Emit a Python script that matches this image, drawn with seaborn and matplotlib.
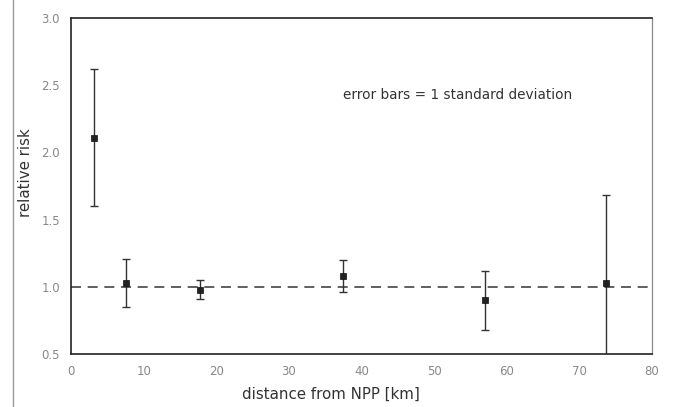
import numpy as np
import pandas as pd
import seaborn as sns
import matplotlib.pyplot as plt
from matplotlib.lines import Line2D

# distance from NPP [km], relative risk, 1 sd
distance = [3.2, 7.6, 17.8, 37.5, 57.0, 73.7]
rel_risk = [2.11, 1.03, 0.98, 1.08, 0.90, 1.03]
std_dev = [0.51, 0.18, 0.07, 0.12, 0.22, 0.65]

x_ticks = [0, 10, 20, 30, 40, 50, 60, 70, 80]
y_ticks = [0.5, 1.0, 1.5, 2.0, 2.5, 3.0]

df = pd.DataFrame({'distance': distance, 'risk': rel_risk, 'sd': std_dev})

sns.set_style('white')
plt.rcParams['font.family'] = ['DejaVu Sans']

fig = plt.figure(figsize=(6.79, 4.07), dpi=100)
ax = fig.add_axes([0.1046, 0.130, 0.8557, 0.826])

# reference line at relative risk 1
ax.axhline(1.0, color='#444444', linestyle=(0, (6, 4)), linewidth=1.2, zorder=1)

ax.errorbar(df['distance'], df['risk'], yerr=df['sd'], fmt='none',
            ecolor='#333333', elinewidth=1.0, capsize=3, capthick=1.0, zorder=2)
sns.scatterplot(data=df, x='distance', y='risk', marker='s', s=24,
                color='#222222', edgecolor='#111111', linewidth=0.5,
                ax=ax, zorder=3, legend=False)

ax.set_xlim(0, 80)
ax.set_ylim(0.5, 3.0)
ax.set_xticks(x_ticks)
ax.set_yticks(y_ticks)
ax.set_xticklabels([str(t) for t in x_ticks])
ax.set_yticklabels([f'{t:.1f}' for t in y_ticks])
ax.tick_params(axis='both', direction='out', length=3, width=0.8,
               colors='#555555', labelsize=8.5, labelcolor='#888888', pad=5)

for side in ['left', 'bottom', 'top']:
    ax.spines[side].set_color('#222222')
    ax.spines[side].set_linewidth(1.2)
ax.spines['right'].set_color('#888888')
ax.spines['right'].set_linewidth(0.9)

ax.set_xlabel('distance from NPP [km]', fontsize=10.8, color='#333333')
ax.set_ylabel('relative risk', fontsize=10.8, color='#333333')
ax.xaxis.set_label_coords(0.447, -0.098)
ax.yaxis.set_label_coords(-0.065, 0.54)

ax.text(37.5, 2.43, 'error bars = 1 standard deviation', fontsize=9.8,
        color='#333333', va='center', ha='left')

# scan border on the left edge
fig.add_artist(Line2D([13 / 679, 13 / 679], [0, 1], transform=fig.transFigure,
                      color='#999999', linewidth=1.0))

fig.savefig('out.png', dpi=100)
